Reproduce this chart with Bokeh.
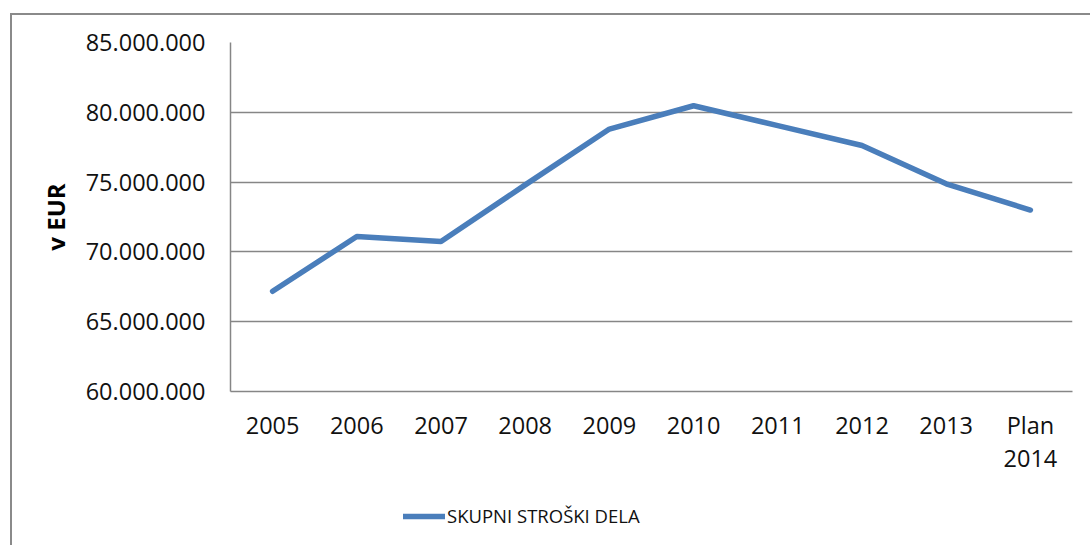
from bokeh.plotting import figure
from bokeh.layouts import column
from bokeh.models import FactorRange, Range1d, Legend, LegendItem, FixedTicker, CustomJSTickFormatter
from bokeh.embed import file_html
from bokeh.resources import INLINE

categories = ["2005", "2006", "2007", "2008", "2009", "2010", "2011", "2012", "2013", "Plan\n2014"]
values = [67180000, 71100000, 70750000, 74800000, 78800000, 80470000, 79050000, 77620000, 74880000, 73000000]
y_ticks = [60000000, 65000000, 70000000, 75000000, 80000000, 85000000]
series_name = "SKUPNI STROŠKI DELA"
y_label = "v EUR"

FONT = "Open Sans"
GRAY = "#868686"
BLUE = "#4A7EBB"

p = figure(width=1078, height=468, x_range=FactorRange(*categories, range_padding=0),
           y_range=Range1d(60000000, 85000000), output_backend="svg", toolbar_location=None,
           min_border_left=218, min_border_right=18, min_border_top=27, min_border_bottom=92)
p.outline_line_color = None
p.background_fill_color = "white"
p.border_fill_color = "white"

r = p.line(x=categories, y=values, line_color=BLUE, line_width=5.5, line_cap="round", line_join="round")

p.yaxis.ticker = FixedTicker(ticks=y_ticks)
p.yaxis.formatter = CustomJSTickFormatter(code="return tick.toFixed(0).replace(/\\B(?=(\\d{3})+(?!\\d))/g, '.');")
for ax in (p.xaxis[0], p.yaxis[0]):
    ax.axis_line_color = GRAY
    ax.axis_line_width = 1.5
    ax.major_tick_line_color = None
    ax.minor_tick_line_color = None
    ax.major_label_text_font = FONT
    ax.major_label_text_font_size = "23.5px"
    ax.major_label_text_color = "#111111"
p.yaxis.major_label_standoff = 19
p.xaxis.major_label_standoff = 11
p.xaxis.major_label_text_line_height = 1.05
p.yaxis.axis_label = y_label
p.yaxis.axis_label_text_font = FONT
p.yaxis.axis_label_text_font_size = "24px"
p.yaxis.axis_label_text_font_style = "bold"
p.yaxis.axis_label_text_color = "black"
p.yaxis.axis_label_standoff = 11

p.xgrid.grid_line_color = None
p.ygrid.grid_line_color = GRAY
p.ygrid.grid_line_width = 1.5

# legend strip below the chart (frame is aligned with the chart's frame)
lg = figure(width=1078, height=62, x_range=Range1d(0, 1), y_range=Range1d(0, 1),
            output_backend="svg", toolbar_location=None,
            min_border_left=0, min_border_right=0, min_border_top=0, min_border_bottom=0)
lg.axis.visible = False
lg.grid.visible = False
lg.outline_line_color = None
lg.border_fill_color = "white"
lg_r = lg.line(x=[-10, -9], y=[-10, -10], line_color=BLUE, line_width=5.5, line_cap="round")
legend = Legend(items=[LegendItem(label=series_name, renderers=[lg_r])], location=(173, 17),
                orientation="horizontal", glyph_width=42, label_standoff=2,
                label_text_font=FONT, label_text_font_size="18.5px", label_text_color="#111111",
                border_line_color=None, background_fill_alpha=0, padding=0, margin=0)
lg.add_layout(legend, "center")

layout = column(p, lg, spacing=0)
layout.margin = (13, 0, 0, 10)
layout.styles = {"border-left": "2px solid #8a8a8a", "border-top": "2px solid #8a8a8a"}

open("out.html", "w").write(file_html(layout, INLINE))
